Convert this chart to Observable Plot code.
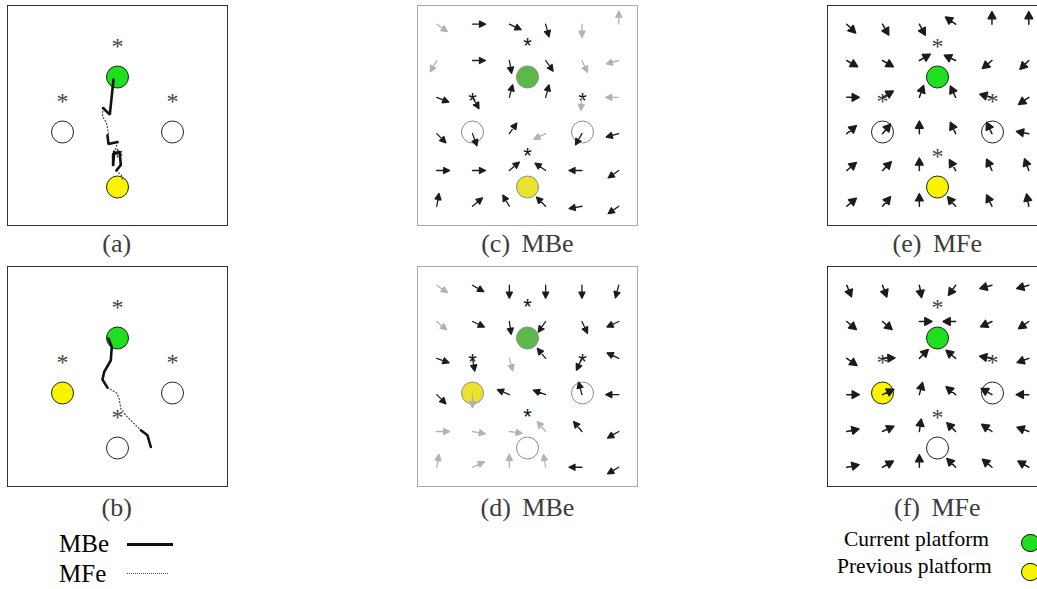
<!DOCTYPE html>
<html><head><meta charset="utf-8">
<script src="https://cdn.jsdelivr.net/npm/d3@7"></script>
<script src="https://cdn.jsdelivr.net/npm/@observablehq/plot@0.6"></script>
<style>
html,body{margin:0;padding:0;background:#fff;overflow:hidden;}
#fig{position:relative;width:1037px;height:589px;overflow:hidden;font-family:"Liberation Serif",serif;}
.panel{position:absolute;width:222px;height:222px;}
.panel svg{max-width:none !important;display:block;}
.cap{position:absolute;width:240px;text-align:center;font-size:26px;color:#3c3c3c;word-spacing:5px;line-height:1;white-space:nowrap;}
.lg{position:absolute;line-height:1;white-space:nowrap;color:#000;}
</style></head>
<body><div id="fig"></div>
<script>
// ---------- data ----------
// platform layout (units: platform spacing = 1)
const platX = [0, -1, 1, 0];
const platY = [1, 0, 0, -1];
const rolesTop = ["current", "other", "other", "previous"];     // panels a, c, e
const rolesBottom = ["current", "previous", "other", "other"];  // panels b, d, f
const starX = [0, -1, 1, 0];
const starY = [1.6, 0.6, 0.6, -0.4];

// vector-field grid (arrow tails)
const colX = [-1.65, -1.0, -0.33, 0.33, 0.99, 1.66];
const rowY = [1.96, 1.3, 0.63, -0.03, -0.7, -1.35];

// arrow directions, degrees clockwise from up
const angC = [
  [125, 90, 115, 165, 180, 0],
  [210, 90, 170, 145, 155, 255],
  [112, 150, 15, 15, 185, 270],
  [135, 160, 35, 245, 210, 255],
  [90, 90, 50, 305, 270, 235],
  [10, 50, 330, 315, 260, 235]
];
const grayC = [
  [1, 0, 0, 0, 1, 1],
  [1, 0, 0, 0, 1, 1],
  [0, 0, 0, 0, 1, 1],
  [0, 0, 0, 1, 0, 0],
  [0, 0, 0, 0, 0, 0],
  [0, 0, 0, 0, 0, 0]
];
const angD = [
  [125, 120, 180, 180, 180, 195],
  [130, 115, 172, 215, 155, 245],
  [110, 170, 165, 320, 205, 295],
  [135, 180, 293, 290, 345, 270],
  [90, 100, 98, 320, 320, 240],
  [10, 65, 0, 350, 270, 240]
];
const grayD = [
  [1, 0, 0, 0, 0, 0],
  [1, 0, 0, 0, 0, 0],
  [0, 0, 1, 0, 0, 0],
  [0, 1, 0, 0, 0, 0],
  [1, 1, 1, 1, 0, 0],
  [1, 1, 1, 1, 0, 0]
];
const angE = [
  [135, 150, 152, 305, 0, 0],
  [120, 120, 60, 295, 230, 225],
  [90, 60, 20, 335, 285, 235],
  [50, 40, 0, 335, 335, 280],
  [50, 45, 0, 330, 335, 340],
  [50, 40, 0, 320, 335, 350]
];
const angF = [
  [158, 160, 170, 215, 255, 255],
  [130, 130, 90, 270, 245, 235],
  [125, 88, 45, 310, 280, 250],
  [90, 65, 15, 310, 300, 270],
  [78, 65, 8, 315, 305, 290],
  [78, 60, 0, 315, 310, 300]
];

// trajectories (segments of [x, y] points)
const trajA_MBe = [
  [[-0.073, 0.953], [-0.14, 0.316], [-0.262, 0.436]],
  [[-0.182, -0.06], [-0.164, -0.218], [0.0, -0.182]],
  [[-0.06, -0.36], [-0.08, -0.62], [-0.08, -0.40], [0.04, -0.36], [0.06, -0.6], [-0.02, -0.70]]
];
const trajA_MFe = [
  [[-0.262, 0.436], [-0.273, 0.285], [-0.2, 0.164], [-0.164, -0.018], [-0.182, -0.06]],
  [[0.0, -0.182], [-0.02, -0.27], [-0.06, -0.36]],
  [[-0.02, -0.70], [0.08, -0.80], [0.09, -0.87]]
];
const trajB_MBe = [
  [[-0.164, 0.989], [-0.104, 0.836], [-0.122, 0.595], [-0.243, 0.382], [-0.273, 0.243], [-0.182, 0.098]],
  [[0.424, -0.678], [0.545, -0.769], [0.606, -0.982]]
];
const trajB_MFe = [
  [[-0.182, 0.098], [-0.018, 0.0], [0.03, -0.102], [0.06, -0.284], [0.151, -0.405], [0.273, -0.527], [0.424, -0.678]]
];

const captions = ["(a)", "(b)", "(c) MBe", "(d) MBe", "(e) MFe", "(f) MFe"];
const legendLines = ["MBe", "MFe"];
const legendDots = ["Current platform", "Previous platform"];

// ---------- helpers ----------
const roles = ["current", "previous", "other"];
function platforms(rs) { return platX.map((x, i) => ({x, y: platY[i], role: rs[i]})); }
const stars = starX.map((x, i) => ({x, y: starY[i]}));
function field(ang, gray) {
  const out = [];
  ang.forEach((row, r) => row.forEach((a, c) => out.push({x: colX[c], y: rowY[r], a, g: gray ? gray[r][c] : 0})));
  return out;
}
function segs(list) {
  const out = [];
  list.forEach((s, k) => s.forEach(([x, y]) => out.push({x, y, k})));
  return out;
}
function head(h, w) {
  return {draw(ctx, l) {
    ctx.moveTo(0, 0); ctx.lineTo(0, -(l - h * 0.7));
    ctx.moveTo(0, -l); ctx.lineTo(-w, -l + h); ctx.lineTo(w, -l + h); ctx.closePath();
  }};
}

function panel(opts) {
  const marks = [Plot.frame({stroke: opts.frame})];
  marks.push(Plot.dot(platforms(opts.roles), {x: "x", y: "y", r: 11, fill: "role", stroke: opts.dotStroke, strokeWidth: 1}));
  marks.push(Plot.text(stars, {x: "x", y: "y", text: () => "*", fontSize: opts.starSize, fontFamily: opts.starFont, fill: opts.starColor, dy: opts.starDy}));
  if (opts.ang) {
    const data = field(opts.ang, opts.gray);
    const shape = head(opts.headLen, opts.headW);
    marks.push(Plot.vector(data.filter(d => d.g), {x: "x", y: "y", rotate: "a", length: opts.len, anchor: "start", shape, stroke: "#b3b3b3", fill: "#b3b3b3", strokeWidth: 1.3}));
    marks.push(Plot.vector(data.filter(d => !d.g), {x: "x", y: "y", rotate: "a", length: opts.len, anchor: "start", shape, stroke: "#1c1c1c", fill: "#1c1c1c", strokeWidth: opts.sw}));
  }
  if (opts.mbe) {
    marks.push(Plot.line(segs(opts.mfe), {x: "x", y: "y", z: "k", stroke: "#333", strokeWidth: 1.1, strokeDasharray: "1,2.3"}));
    marks.push(Plot.line(segs(opts.mbe), {x: "x", y: "y", z: "k", stroke: "#111", strokeWidth: 2.6, strokeLinejoin: "miter"}));
  }
  const svg = Plot.plot({
    width: 222, height: 222, margin: 1,
    x: {domain: [-2, 2], axis: null},
    y: {domain: [-1.7, 2.3], axis: null},
    color: {domain: roles, range: opts.colors},
    marks
  });
  svg.style.maxWidth = "none";
  svg.style.background = "transparent";
  const div = document.createElement("div");
  div.className = "panel";
  div.style.left = opts.left + "px";
  div.style.top = opts.top + "px";
  div.appendChild(svg);
  fig.appendChild(div);
}

const fig = document.getElementById("fig");
const bright = ["#1ee01e", "#fbf400", "#ffffff"];
const muted = ["#5cb848", "#ebe22e", "#ffffff"];
const serifStar = {starSize: 24, starFont: "Liberation Serif", starColor: "#444", starDy: 2};
const sansStar = {starSize: 22, starFont: "Liberation Sans", starColor: "#111", starDy: 2};

const colLeft = [5.7, 416.4, 826.3];
const rowTop = [3.5, 265.2];

panel({left: colLeft[0], top: rowTop[0], frame: "#333", roles: rolesTop, colors: bright, dotStroke: "#222", ...serifStar, mbe: trajA_MBe, mfe: trajA_MFe});
panel({left: colLeft[0], top: rowTop[1], frame: "#333", roles: rolesBottom, colors: bright, dotStroke: "#222", ...serifStar, mbe: trajB_MBe, mfe: trajB_MFe});
panel({left: colLeft[1], top: rowTop[0], frame: "#aaa", roles: rolesTop, colors: muted, dotStroke: "#8c8c8c", ...sansStar, ang: angC, gray: grayC, len: 13, headLen: 6, headW: 3, sw: 1.3});
panel({left: colLeft[1], top: rowTop[1], frame: "#aaa", roles: rolesBottom, colors: muted, dotStroke: "#8c8c8c", ...sansStar, ang: angD, gray: grayD, len: 13, headLen: 6, headW: 3, sw: 1.3});
panel({left: colLeft[2], top: rowTop[0], frame: "#333", roles: rolesTop, colors: bright, dotStroke: "#222", ...serifStar, ang: angE, len: 12.5, headLen: 7, headW: 3.8, sw: 1.5});
panel({left: colLeft[2], top: rowTop[1], frame: "#333", roles: rolesBottom, colors: bright, dotStroke: "#222", ...serifStar, ang: angF, len: 12.5, headLen: 7, headW: 3.8, sw: 1.5});

// captions
const capCenters = [116.7, 116.7, 527.4, 527.4, 937.3, 937.3];
const capTops = [231, 495, 231, 495, 231, 495];
captions.forEach((t, i) => {
  const d = document.createElement("div");
  d.className = "cap";
  d.textContent = t;
  d.style.left = (capCenters[i] - 120) + "px";
  d.style.top = capTops[i] + "px";
  fig.appendChild(d);
});

// legends
function lg(text, left, top, size) {
  const d = document.createElement("div");
  d.className = "lg"; d.textContent = text;
  d.style.left = left + "px"; d.style.top = top + "px"; d.style.fontSize = size + "px";
  fig.appendChild(d);
}
function box(left, top, w, h, css) {
  const d = document.createElement("div");
  d.style.cssText = `position:absolute;left:${left}px;top:${top}px;width:${w}px;height:${h}px;box-sizing:border-box;` + css;
  fig.appendChild(d);
}
lg(legendLines[0], 59, 531, 25);
lg(legendLines[1], 59, 561, 25);
box(127, 543, 46, 3, "background:#111;");
box(127, 573, 41, 1, "border-top:1px dotted #555;");
lg(legendDots[0], 844, 529, 21.5);
lg(legendDots[1], 837, 555.5, 21.5);
box(1021, 533.5, 18.5, 18.5, `border:1px solid #111;border-radius:50%;background:${bright[0]};`);
box(1021, 562.5, 18.5, 18.5, `border:1px solid #111;border-radius:50%;background:${bright[1]};`);
</script>
</body></html>
